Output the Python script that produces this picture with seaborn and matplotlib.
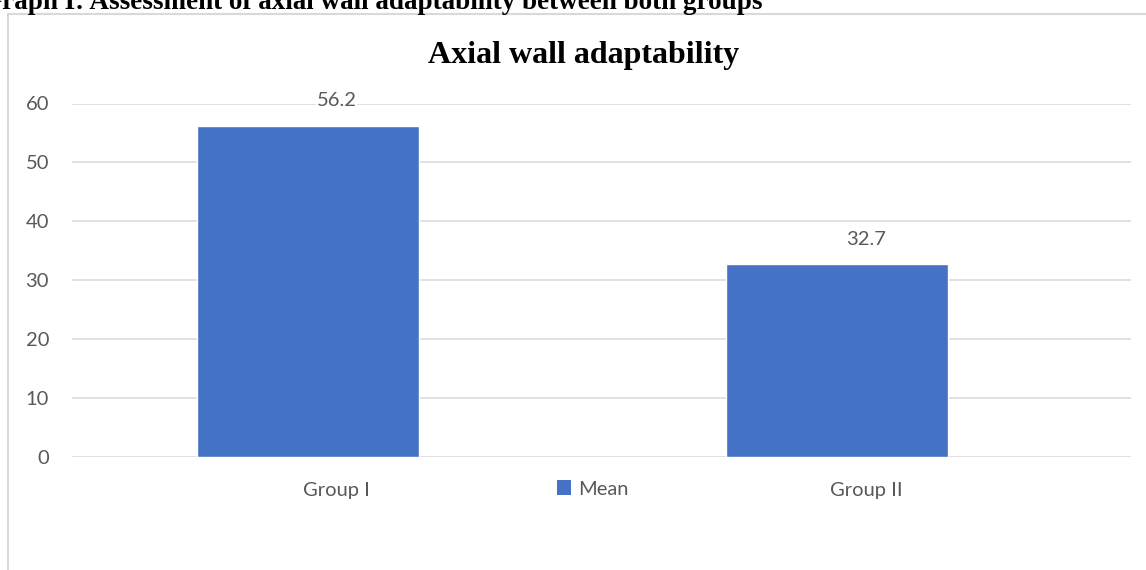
import matplotlib
matplotlib.use("Agg")
import matplotlib.pyplot as plt
from matplotlib.lines import Line2D
from matplotlib.patches import Patch
import seaborn as sns
import pandas as pd

# ---- data ----
groups = ["Group I", "Group II"]
means = [56.2, 32.7]
series_name = "Mean"
yticks = [0, 10, 20, 30, 40, 50, 60]
chart_title = "Axial wall adaptability"
header = "Graph I: Assessment of axial wall adaptability between both groups"

df = pd.DataFrame({"group": groups, "mean": means})

sns.set_style("white")
plt.rcParams["font.family"] = ["Lato", "DejaVu Sans"]

BAR_COLOR = "#4472C4"
GRID_COLOR = "#d9d9d9"
TEXT_COLOR = "#595959"
W, H = 1146, 570

fig = plt.figure(figsize=(W / 100, H / 100), dpi=100)
ax = fig.add_axes([72 / W, 1 - 457 / H, (1131 - 72) / W, (457 - 103.5) / H])

sns.barplot(data=df, x="group", y="mean", color=BAR_COLOR, saturation=1,
            width=0.419, ax=ax, errorbar=None, zorder=2)
# bars sit slightly left of the category centre in the original
BAR_SHIFT = -0.0548
for p in ax.patches:
    p.set_x(p.get_x() + BAR_SHIFT)

ax.set_xlim(-0.5, 1.5)
ax.set_ylim(0, 60)
ax.set_yticks(yticks)
ax.set_xlabel("")
ax.set_ylabel("")
ax.yaxis.grid(True, color=GRID_COLOR, lw=1.1)
ax.xaxis.grid(False)
ax.set_axisbelow(True)
for s in ax.spines.values():
    s.set_visible(False)
ax.tick_params(axis="y", length=0, pad=16.5, labelsize=14.5, labelcolor=TEXT_COLOR)
ax.tick_params(axis="x", length=0, pad=18, labelsize=14.5, labelcolor=TEXT_COLOR)

for i, v in enumerate(means):
    ax.annotate(f"{v}", xy=(i, v), xytext=(0, 18), textcoords="offset points",
                ha="center", va="center", fontsize=14.5, color=TEXT_COLOR,
                bbox=dict(fc="white", ec="none", pad=0.5), annotation_clip=False)

handle = Patch(facecolor=BAR_COLOR, edgecolor="none", label=series_name)
ax.legend(handles=[handle], loc="center", bbox_to_anchor=(593 / W, 1 - 489 / H),
          bbox_transform=fig.transFigure, frameon=False, fontsize=14.5,
          handlelength=0.7, handleheight=0.7, handletextpad=0.35,
          labelcolor=TEXT_COLOR)

fig.text(583.5 / W, 1 - 63 / H, chart_title, ha="center", va="baseline",
         fontsize=23, fontweight="bold", family=["Liberation Serif"], color="black")
fig.text(-19 / W, 1 - 9 / H, header, ha="left", va="baseline",
         fontsize=19.5, fontweight="bold", family=["Liberation Serif"], color="black")

fig.add_artist(Line2D([8 / W, 1], [1 - 14 / H, 1 - 14 / H], transform=fig.transFigure,
                      color=GRID_COLOR, lw=1.5))
fig.add_artist(Line2D([8 / W, 8 / W], [0, 1 - 14 / H], transform=fig.transFigure,
                      color=GRID_COLOR, lw=1.5))

fig.savefig("out.png", dpi=100)
